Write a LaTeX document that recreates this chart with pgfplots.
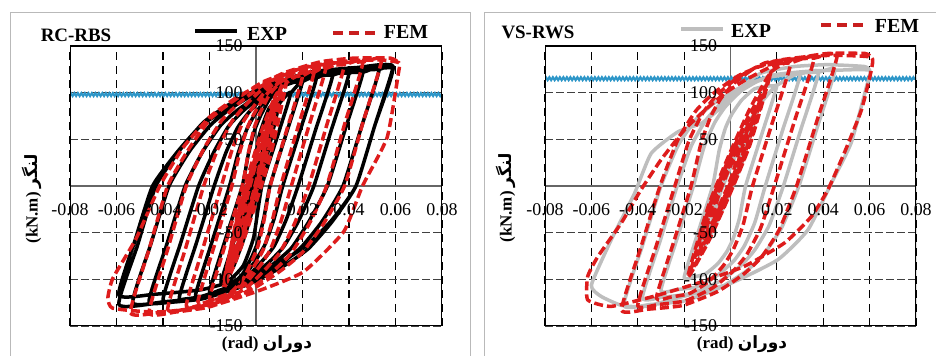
\documentclass[border=0pt]{standalone}
\usepackage{pgfplots}
\pgfplotsset{compat=1.18}
\usepackage{fontspec}
\setmainfont{Liberation Serif}
\newfontfamily\arabicfont[Script=Arabic]{DejaVu Sans}
\TeXXeTstate=1
\usetikzlibrary{decorations.pathmorphing}
\definecolor{femred}{RGB}{222,28,28}
\definecolor{femleg}{RGB}{200,30,30}
\definecolor{expgray}{RGB}{190,190,190}
\definecolor{refblue}{RGB}{45,150,200}
\pgfplotsset{
  hystbase/.style={
  scale only axis, width=372bp, height=280bp,
  xmin=-0.08,xmax=0.08,ymin=-150,ymax=150,
  axis lines=middle,
  xtick={-0.08,-0.06,-0.04,-0.02,0,0.02,0.04,0.06,0.08},
  ytick={-150,-100,-50,0,50,100,150},
  major tick length=0pt,
  scaled x ticks=false, scaled y ticks=false,
  },
  hyst/.style={hystbase,
  axis line style={-, draw=gray!80!black, line width=1.1bp},
  xticklabels={}, yticklabels={},
  grid=major,
  x grid style={black, line width=1.1bp, dash pattern=on 8bp off 6bp},
  y grid style={black!75, line width=1.1bp, dash pattern=on 8bp off 3bp},
  },
  hystlabels/.style={hystbase,
  axis line style={draw=none},
  xticklabel style={/pgf/number format/fixed,/pgf/number format/precision=2, yshift=-14bp},
  yticklabel style={xshift=-10bp},
  ticklabel style={font=\fontsize{18}{18}\selectfont},
  /pgf/number format/assume math mode=true,
  },
  exp/.style={line width=3.5bp, line join=round, smooth, tension=0.3},
  fem/.style={femred, line width=3.5bp, dash pattern=on 9bp off 4bp, line join=round, smooth, tension=0.3},
  blue/.style={refblue, line width=2.2bp, decorate, decoration={zigzag, segment length=3.5bp, amplitude=1.4bp}},
}
\begin{document}
\begin{tikzpicture}
\useasboundingbox (0,0) rectangle (936bp,356bp);
\draw[gray!55, line width=0.8bp] (10bp,-2bp) -- (10bp,344bp) -- (470bp,344bp) -- (470bp,-2bp);
\draw[gray!55, line width=0.8bp] (484bp,-2bp) -- (484bp,344bp) -- (940bp,344bp);
% ---------------- left panel
\begin{axis}[hyst, at={(70bp,30bp)}, anchor=south west]
\addplot[blue] coordinates {(-0.08,98) (0.08,98)};
\addplot[black, exp] coordinates {
(0.006,55) (0.003,22) (0,-8) (-0.003,-34) (-0.006,-55) (-0.003,-22) (0,8) (0.003,34) (0.006,55)
(0.01,88) (0.005,35) (0,-13) (-0.005,-55) (-0.01,-88) (-0.005,-35) (0,13) (0.005,55) (0.01,88)
(0.015,100) (0.0088,50) (0.0025,0) (-0.001,-55) (-0.0054,-85) (-0.0106,-99) (-0.015,-103) (-0.0086,-52) (-0.0021,0) (0.0013,53) (0.0056,83) (0.0107,96) (0.015,100)
(0.02,112) (0.013,56) (0.006,0) (0.0034,-34) (0.0008,-60) (-0.0018,-76) (-0.0057,-94) (-0.0109,-107) (-0.0161,-112) (-0.02,-113) (-0.013,-56) (-0.0059,0) (-0.0033,34) (-0.0007,59) (0.0019,75) (0.0058,93) (0.0109,106) (0.0161,111) (0.02,112)
(0.026,116) (0.0188,58) (0.0115,0) (0.0078,-35) (0.004,-62) (0.0003,-78) (-0.0054,-97) (-0.0129,-111) (-0.0204,-116) (-0.026,-117) (-0.0187,-58) (-0.0114,0) (-0.0077,35) (-0.0039,61) (-0.0002,78) (0.0054,96) (0.0129,110) (0.0204,115) (0.026,116)
(0.033,119) (0.0256,60) (0.0181,0) (0.013,-36) (0.0079,-64) (0.0028,-80) (-0.0049,-100) (-0.0151,-114) (-0.0253,-119) (-0.033,-120) (-0.0255,-60) (-0.018,0) (-0.0129,36) (-0.0078,63) (-0.0027,80) (0.005,99) (0.0152,113) (0.0254,118) (0.033,119)
(0.04,121) (0.0324,60) (0.0249,0) (0.0184,-37) (0.0119,-65) (0.0054,-82) (-0.0043,-101) (-0.0173,-116) (-0.0303,-121) (-0.04,-122) (-0.0324,-61) (-0.0247,0) (-0.0182,36) (-0.0118,64) (-0.0053,81) (0.0044,100) (0.0174,115) (0.0303,120) (0.04,121)
(0.046,122) (0.0384,61) (0.0307,0) (0.023,-37) (0.0154,-66) (0.0077,-83) (-0.0038,-103) (-0.0192,-118) (-0.0345,-123) (-0.046,-124) (-0.0383,-62) (-0.0305,0) (-0.0229,37) (-0.0152,65) (-0.0076,82) (0.0039,101) (0.0192,116) (0.0345,121) (0.046,122)
(0.053,125) (0.0452,62) (0.0374,0) (0.0284,-38) (0.0193,-66) (0.0103,-84) (-0.0033,-104) (-0.0214,-119) (-0.0394,-124) (-0.053,-125) (-0.0452,-62) (-0.0374,0) (-0.0284,38) (-0.0193,66) (-0.0103,84) (0.0033,104) (0.0214,119) (0.0394,124) (0.053,125)
(0.059,128) (0.051,64) (0.043,0) (0.0328,-38) (0.0226,-67) (0.0124,-85) (-0.0029,-105) (-0.0233,-121) (-0.0437,-126) (-0.059,-127) (-0.051,-64) (-0.0431,0) (-0.0329,38) (-0.0227,68) (-0.0125,86) (0.0028,106) (0.0233,122) (0.0437,127) (0.059,128)
(0.051,64) (0.043,0) (0.0328,-36) (0.0226,-62) (0.0124,-79) (-0.0029,-97) (-0.0233,-111) (-0.0437,-116) (-0.059,-117) (-0.052,-58) (-0.0445,0) (-0.034,36) (-0.024,64) (-0.013,82) (0.0025,102) (0.023,119) (0.0437,125) (0.059,127)
};
\addplot[fem] coordinates {
(0.0035,50) (0.001,15) (-0.0015,-10) (-0.004,-33) (-0.0065,-50) (-0.004,-15) (-0.0015,10) (0.001,33) (0.0035,50)
(0.0055,68) (0.002,20) (-0.0015,-14) (-0.005,-44) (-0.0085,-68) (-0.005,-20) (-0.0015,14) (0.002,44) (0.0055,68)
(0.0075,84) (0.003,25) (-0.0015,-17) (-0.006,-55) (-0.0105,-84) (-0.006,-25) (-0.0015,17) (0.003,55) (0.0075,84)
(0.008,95) (0.0028,28.5) (-0.0025,-19) (-0.0078,-62) (-0.013,-95) (-0.0078,-28.5) (-0.0025,19) (0.0028,62) (0.008,95)
(0.0095,98) (0.004,29) (-0.0015,-20) (-0.007,-64) (-0.0125,-98) (-0.007,-29) (-0.0015,20) (0.004,64) (0.0095,98)
(0.011,106) (0.0048,32) (-0.0015,-21) (-0.0078,-69) (-0.014,-106) (-0.0078,-32) (-0.0015,21) (0.0048,69) (0.011,106)
(0.013,110) (0.0063,33) (-0.0005,-22) (-0.0073,-71.5) (-0.014,-110) (-0.0073,-33) (-0.0005,22) (0.0063,71.5) (0.013,110)
(0.02,118) (0.0131,59) (0.0061,0) (0.0035,-36) (0.0009,-64) (-0.0017,-80) (-0.0056,-100) (-0.0109,-114) (-0.0161,-119) (-0.02,-120) (-0.0129,-60) (-0.0059,0) (-0.0033,35) (-0.0007,63) (0.0019,79) (0.0058,98) (0.0109,112) (0.0161,117) (0.02,118)
(0.025,122) (0.0178,61) (0.0106,0) (0.007,-37) (0.0035,-66) (-0.0001,-83) (-0.0054,-103) (-0.0125,-118) (-0.0197,-123) (-0.025,-124) (-0.0177,-62) (-0.0104,0) (-0.0069,37) (-0.0033,65) (0.0002,82) (0.0055,101) (0.0126,116) (0.0197,121) (0.025,122)
(0.03,126) (0.0226,63) (0.0152,0) (0.0107,-38) (0.0062,-68) (0.0016,-86) (-0.0051,-106) (-0.0142,-122) (-0.0232,-127) (-0.03,-128) (-0.0225,-64) (-0.0149,0) (-0.0104,38) (-0.0059,67) (-0.0014,84) (0.0053,105) (0.0143,120) (0.0233,125) (0.03,126)
(0.038,130) (0.0304,65) (0.0227,0) (0.0166,-40) (0.0106,-70) (0.0045,-88) (-0.0046,-110) (-0.0168,-125) (-0.0289,-131) (-0.038,-132) (-0.0302,-66) (-0.0225,0) (-0.0165,39) (-0.0104,69) (-0.0044,87) (0.0047,108) (0.0168,124) (0.029,129) (0.038,130)
(0.046,133) (0.0382,67) (0.0304,0) (0.0228,-41) (0.0151,-72) (0.0075,-91) (-0.004,-113) (-0.0193,-129) (-0.0345,-135) (-0.046,-136) (-0.038,-68) (-0.03,0) (-0.0224,40) (-0.0148,70) (-0.0072,89) (0.0042,110) (0.0194,126) (0.0346,132) (0.046,133)
(0.054,135) (0.046,68) (0.0381,0) (0.0289,-41) (0.0197,-72) (0.0105,-91) (-0.0033,-113) (-0.0218,-129) (-0.0402,-135) (-0.054,-136) (-0.046,-68) (-0.038,0) (-0.0288,40) (-0.0196,72) (-0.0104,90) (0.0034,112) (0.0218,128) (0.0402,134) (0.054,135)
(0.0615,132) (0.0612,120) (0.0564,52) (0.0458,0) (0.0377,-49) (0.0204,-92) (0.0003,-113) (-0.0227,-131) (-0.0443,-135) (-0.0616,-131) (-0.0637,-120) (-0.0616,-99) (-0.0515,-56) (-0.0414,0) (-0.0314,41) (-0.0199,74) (-0.0083,95) (0,106) (0.0118,121) (0.0276,133) (0.042,137) (0.0578,137) (0.0615,132)
};
\draw[black, line width=1.3bp] (rel axis cs:0,0) rectangle (rel axis cs:1,1);
\end{axis}
\begin{axis}[hystlabels, at={(70bp,30bp)}, anchor=south west]
\end{axis}
% ---------------- right panel
\begin{axis}[hyst, at={(545bp,30bp)}, anchor=south west, width=371bp]
\addplot[blue] coordinates {(-0.08,115) (0.08,115)};
\addplot[expgray, exp] coordinates {
(0.007,55) (0.003,19) (-0.001,-7) (-0.005,-30) (-0.009,-48) (-0.005,-12) (-0.001,14) (0.003,37) (0.007,55)
(0.012,85) (0.0055,29) (-0.001,-11) (-0.0075,-47) (-0.014,-75) (-0.0075,-19) (-0.001,21) (0.0055,57) (0.012,85)
(0.02,108) (0.0133,54) (0.0065,0) (0.0039,-34) (0.0012,-56) (-0.0015,-70) (-0.0054,-83) (-0.0107,-94) (-0.016,-97.5) (-0.02,-98) (-0.0139,-49) (-0.0077,0) (-0.0049,38) (-0.0022,62) (0.0006,77) (0.0048,92) (0.0103,104) (0.0159,107) (0.02,108)
(0.03,120) (0.0225,60) (0.015,0) (0.0105,-39) (0.006,-64) (0.0015,-80) (-0.0053,-95) (-0.0143,-108) (-0.0233,-111) (-0.03,-112) (-0.023,-56) (-0.016,0) (-0.0114,42) (-0.0068,68) (-0.0022,85) (0.0047,102) (0.0139,115) (0.0231,119) (0.03,120)
(0.038,122) (0.0304,61) (0.0228,0) (0.0167,-42) (0.0106,-68) (0.0046,-85) (-0.0046,-102) (-0.0167,-115) (-0.0289,-119) (-0.038,-120) (-0.0305,-60) (-0.023,0) (-0.0169,43) (-0.0108,70) (-0.0047,87) (0.0045,104) (0.0167,117) (0.0289,121) (0.038,122)
(0.045,124) (0.0373,62) (0.0295,0) (0.022,-45) (0.0144,-73) (0.0069,-91) (-0.0045,-109) (-0.0196,-123) (-0.0347,-127) (-0.046,-128) (-0.038,-64) (-0.03,0) (-0.0225,44) (-0.015,71) (-0.0075,88) (0.0038,105) (0.0188,119) (0.0338,123) (0.045,124)
(0.06,124) (0.0586,106) (0.052,46) (0.0435,3) (0.0334,-47) (0.0204,-79) (0.0003,-104) (-0.0199,-118) (-0.037,-129) (-0.047,-128) (-0.056,-118) (-0.06,-106) (-0.0515,-58) (-0.0414,-8) (-0.0342,35) (-0.0227,58) (-0.0127,67) (-0.0055,81) (0.0032,103) (0.0132,121) (0.0276,128) (0.042,130) (0.0578,128) (0.06,124)
};
\addplot[fem] coordinates {
(0.004,40) (0.001,14) (-0.002,-5) (-0.005,-22) (-0.008,-35) (-0.005,-9) (-0.002,10) (0.001,27) (0.004,40)
(0.007,58) (0.0025,19.5) (-0.002,-8) (-0.0065,-33) (-0.011,-52) (-0.0065,-13.5) (-0.002,14) (0.0025,39) (0.007,58)
(0.01,75) (0.0043,26) (-0.0015,-9) (-0.0073,-40.5) (-0.013,-65) (-0.0073,-16) (-0.0015,19) (0.0043,50.5) (0.01,75)
(0.013,92) (0.0059,32.5) (-0.0013,-10) (-0.0084,-48) (-0.0155,-78) (-0.0084,-18.5) (-0.0013,24) (0.0059,62) (0.013,92)
(0.0155,108) (0.0074,38.7) (-0.0008,-10.8) (-0.0089,-55) (-0.017,-90) (-0.0089,-20.7) (-0.0008,28.8) (0.0074,73) (0.0155,108)
(0.0175,122) (0.0085,45) (-0.0005,-10) (-0.0095,-59.5) (-0.0185,-98) (-0.0095,-21) (-0.0005,34) (0.0085,83.5) (0.0175,122)
(0.026,132) (0.0178,66) (0.0095,0) (0.0054,-42) (0.0012,-68) (-0.003,-85) (-0.0092,-102) (-0.0175,-115) (-0.0258,-119) (-0.032,-120) (-0.0245,-60) (-0.017,0) (-0.0127,46) (-0.0084,75) (-0.0041,94) (0.0024,112) (0.011,127) (0.0196,131) (0.026,132)
(0.036,137) (0.0274,68) (0.0189,0) (0.013,-45) (0.0071,-73) (0.0012,-91) (-0.0076,-109) (-0.0194,-123) (-0.0312,-127) (-0.04,-128) (-0.032,-64) (-0.024,0) (-0.018,48) (-0.012,78) (-0.006,97) (0.003,116) (0.015,132) (0.027,136) (0.036,137)
(0.046,140) (0.0373,70) (0.0285,0) (0.021,-47) (0.0134,-76) (0.0059,-94) (-0.0055,-113) (-0.0206,-128) (-0.0357,-132) (-0.047,-133) (-0.0387,-66) (-0.0304,0) (-0.0228,49) (-0.0151,80) (-0.0075,99) (0.004,119) (0.0193,134) (0.0345,139) (0.046,140)
(0.0607,138) (0.0607,124) (0.0564,81) (0.049,35) (0.042,-4) (0.0348,-33) (0.0233,-61) (0.006,-86) (-0.014,-104) (-0.0328,-118) (-0.0515,-129) (-0.0616,-122) (-0.0616,-97) (-0.0573,-76) (-0.0472,-40) (-0.0386,-4) (-0.03,28) (-0.0199,60) (-0.0112,81) (-0.0026,99) (0.006,113) (0.0176,128) (0.029,137) (0.042,142) (0.058,142) (0.0607,138)
};
\draw[black, line width=1.3bp] (rel axis cs:0,0) rectangle (rel axis cs:1,1);
\end{axis}
\begin{axis}[hystlabels, at={(545bp,30bp)}, anchor=south west, width=371bp]
\end{axis}
% ---------------- titles and legends
\node[font=\fontsize{19}{19}\selectfont\bfseries] at (76bp,321bp) {RC-RBS};
\draw[black, line width=3.2bp] (195bp,325bp) -- (237bp,325bp);
\node[font=\fontsize{20}{20}\selectfont\bfseries] at (267bp,322bp) {EXP};
\draw[femleg, line width=3.2bp, dash pattern=on 10bp off 6bp] (333bp,323bp) -- (377bp,323bp);
\node[font=\fontsize{20}{20}\selectfont\bfseries] at (406bp,324.5bp) {FEM};
\node[font=\fontsize{19}{19}\selectfont\bfseries] at (538bp,324bp) {VS-RWS};
\draw[expgray, line width=3.2bp] (681bp,327bp) -- (723bp,327bp);
\node[font=\fontsize{20}{20}\selectfont\bfseries] at (751bp,325bp) {EXP};
\draw[femleg, line width=3.2bp, dash pattern=on 10bp off 6bp] (821bp,331bp) -- (865bp,331bp);
\node[font=\fontsize{20}{20}\selectfont\bfseries] at (897bp,330bp) {FEM};
% axis labels
\node[font=\fontsize{17}{17}\selectfont\bfseries] at (267bp,12bp) {(rad) {\arabicfont\beginR دوران\endR}};
\node[font=\fontsize{17}{17}\selectfont\bfseries, rotate=90] at (32bp,157bp) {(kN.m) {\arabicfont\beginR لنگر\endR}};
\node[font=\fontsize{17}{17}\selectfont\bfseries] at (742bp,12bp) {(rad) {\arabicfont\beginR دوران\endR}};
\node[font=\fontsize{17}{17}\selectfont\bfseries, rotate=90] at (506bp,158bp) {(kN.m) {\arabicfont\beginR لنگر\endR}};
\end{tikzpicture}
\end{document}
